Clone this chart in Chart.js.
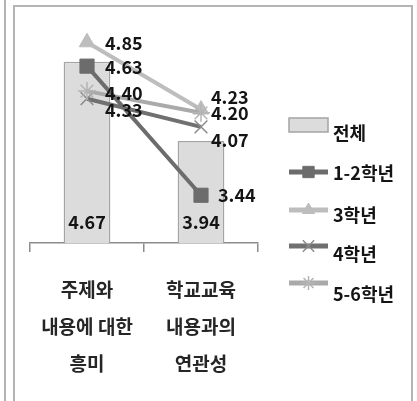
<!DOCTYPE html>
<html>
<head>
<meta charset="utf-8">
<script src="https://cdn.jsdelivr.net/npm/chart.js@4/dist/chart.umd.min.js"></script>
<style>
  html, body { margin: 0; padding: 0; background: #fff; }
  #wrap { position: relative; width: 417px; height: 401px; overflow: hidden; background: #fff; }
  #edge { position: absolute; left: 4px; top: 0; width: 2px; height: 401px; background: #b4b4b4; }
  #frame { position: absolute; left: 13px; top: 5px; width: 396px; height: 400px;
           border: 2px solid #b4b4b4; border-bottom: none; }
  canvas { position: absolute; left: 0; top: 0; }
</style>
</head>
<body>
<div id="wrap">
  <div id="edge"></div>
  <div id="frame"></div>
  <canvas id="c" width="417" height="401"></canvas>
</div>
<script>
// Survey means by category
const categories = [['주제와', '내용에 대한', '흥미'], ['학교교육', '내용과의', '연관성']];
const seriesNames = ['전체', '1-2학년', '3학년', '4학년', '5-6학년'];
const total   = [4.67, 3.94];
const grade12 = [4.63, 3.44];
const grade3  = [4.85, 4.23];
const grade4  = [4.33, 4.07];
const grade56 = [4.40, 4.20];
const yMin = 3;
const yMax = 5;

const KR = "'Noto Sans CJK KR', 'Noto Sans', sans-serif";

// value-label offsets [dx, dy] from each line point, per dataset index
const labelNudge = {
  1: [[18, 1], [17, 0]],
  2: [[18, 1], [10, -12]],
  3: [[18, 11], [10, 13]],
  4: [[18, 2], [10, 0]]
};

// legend rows: symbol centre y and text centre y
const legendSymbolY = [125, 172, 210, 246, 283];
const legendTextY   = [133, 173, 215, 254, 294];

const valueLabels = {
  id: 'valueLabels',
  afterDatasetsDraw(chart) {
    const ctx = chart.ctx;
    ctx.save();
    ctx.font = 'bold 18px ' + KR;
    ctx.fillStyle = '#141414';
    ctx.textBaseline = 'middle';
    chart.data.datasets.forEach((ds, di) => {
      const meta = chart.getDatasetMeta(di);
      meta.data.forEach((el, i) => {
        const txt = ds.data[i].toFixed(2);
        if (ds.type === 'line') {
          const [dx, dy] = labelNudge[di][i];
          ctx.textAlign = 'left';
          ctx.fillText(txt, el.x + dx, el.y + dy);
        } else {
          ctx.textAlign = 'center';
          ctx.fillText(txt, el.x, chart.chartArea.bottom - 21);
        }
      });
    });
    ctx.restore();
  }
};

const sideLegend = {
  id: 'sideLegend',
  afterDraw(chart) {
    const ctx = chart.ctx;
    const x0 = 289, x1 = 328;
    ctx.save();
    chart.data.datasets.forEach((ds, i) => {
      const y = legendSymbolY[i];
      if (ds.type === 'line') {
        ctx.strokeStyle = ds.borderColor;
        ctx.lineWidth = 5;
        ctx.lineCap = 'butt';
        ctx.beginPath();
        ctx.moveTo(x0, y);
        ctx.lineTo(x1, y);
        ctx.stroke();
        ctx.fillStyle = ds.pointBackgroundColor;
        ctx.strokeStyle = ds.pointBorderColor;
        ctx.lineWidth = ds.pointBorderWidth;
        Chart.helpers.drawPoint(ctx, {
          pointStyle: ds.pointStyle,
          radius: ds.legendRadius,
          rotation: 0,
          borderWidth: ds.pointBorderWidth
        }, (x0 + x1) / 2, y);
      } else {
        ctx.fillStyle = ds.backgroundColor;
        ctx.strokeStyle = ds.borderColor;
        ctx.lineWidth = 1.5;
        ctx.fillRect(x0, y - 7, x1 - x0, 14);
        ctx.strokeRect(x0, y - 7, x1 - x0, 14);
      }
      ctx.font = 'bold 18px ' + KR;
      ctx.fillStyle = '#141414';
      ctx.textAlign = 'left';
      ctx.textBaseline = 'middle';
      ctx.fillText(ds.label, 333, legendTextY[i]);
    });
    ctx.restore();
  }
};

function lineSeries(label, data, color, markColor, style, radius, legendRadius, bw, order) {
  return {
    type: 'line', label, data, order,
    borderColor: color, borderWidth: 4, tension: 0,
    pointStyle: style, pointRadius: radius, legendRadius,
    pointBackgroundColor: markColor, pointBorderColor: markColor,
    pointBorderWidth: bw, fill: false
  };
}

new Chart(document.getElementById('c'), {
  type: 'bar',
  data: {
    labels: categories,
    datasets: [
      {
        type: 'bar', label: seriesNames[0], data: total, order: 10,
        backgroundColor: '#dcdcdc', borderColor: '#a4a4a4', borderWidth: 1.5,
        categoryPercentage: 0.82, barPercentage: 0.5
      },
      lineSeries(seriesNames[1], grade12, '#6c6c6c', '#6c6c6c', 'rect', 10, 8, 1, 1),
      lineSeries(seriesNames[2], grade3, '#bdbdbd', '#bdbdbd', 'triangle', 9, 7, 1, 4),
      lineSeries(seriesNames[3], grade4, '#707070', '#8a8a8a', 'crossRot', 9, 8, 1.5, 3),
      lineSeries(seriesNames[4], grade56, '#aaaaaa', '#b4b4b4', 'star', 9, 7, 1.5, 2)
    ]
  },
  options: {
    responsive: false,
    animation: false,
    layout: { padding: { left: 30, right: 159, top: 26, bottom: 28 } },
    plugins: { legend: { display: false }, tooltip: { enabled: false } },
    scales: {
      y: { display: false, min: yMin, max: yMax },
      x: {
        offset: true,
        grid: { offset: true, drawOnChartArea: false, drawTicks: true, tickLength: 9,
                color: '#8c8c8c', lineWidth: 1.5 },
        border: { display: true, color: '#8c8c8c', width: 1.5 },
        ticks: {
          font: { family: KR, size: 19, weight: 'bold', lineHeight: 1.95 },
          color: '#262626', padding: 19, maxRotation: 0, autoSkip: false
        },
        afterFit(scale) { scale.height = 130; }
      }
    }
  },
  plugins: [valueLabels, sideLegend]
});
</script>
</body>
</html>
